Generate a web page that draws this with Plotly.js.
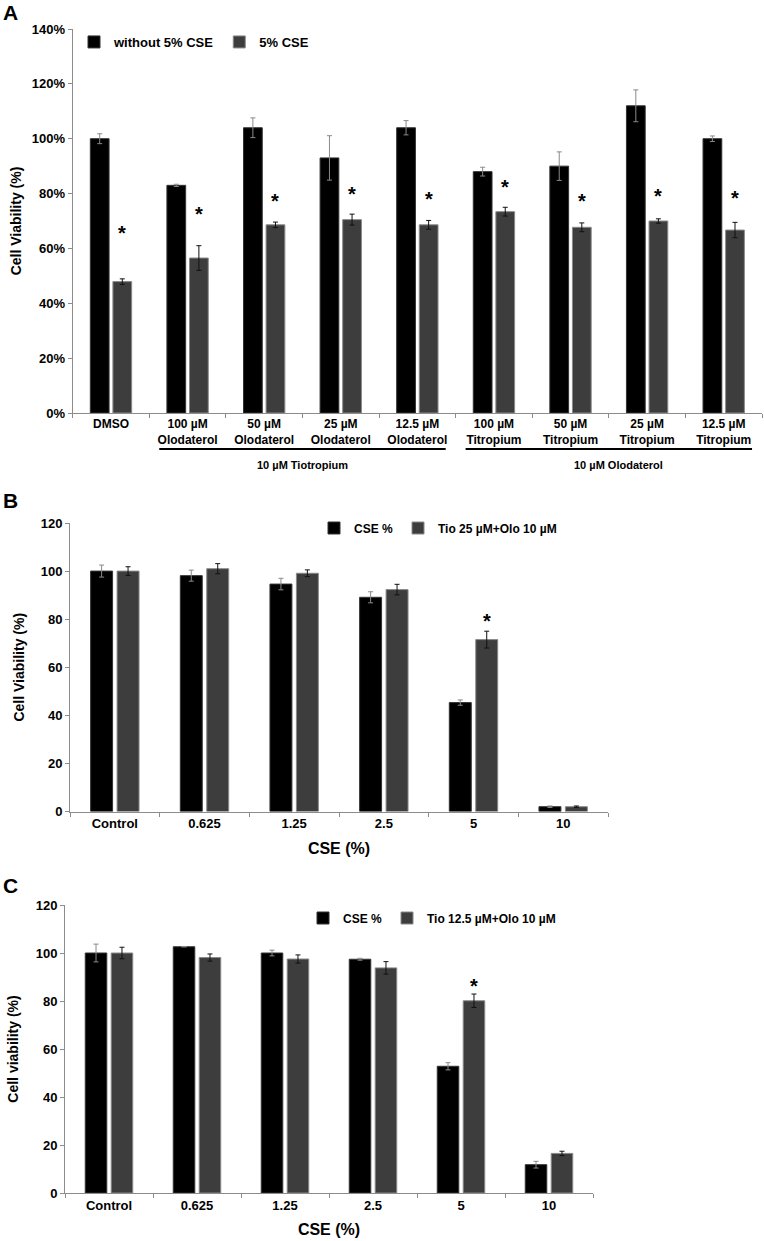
<!DOCTYPE html>
<html>
<head>
<meta charset="utf-8">
<script src="https://cdn.plot.ly/plotly-3.0.1.min.js"></script>
<style>
html,body{margin:0;padding:0;background:#ffffff;}
#chart{width:764px;height:1241px;}
</style>
</head>
<body>
<div id="chart"></div>
<script>
// ---------- Panel A data ----------
const catsA = ['DMSO', '100 µM<br>Olodaterol', '50 µM<br>Olodaterol', '25 µM<br>Olodaterol', '12.5 µM<br>Olodaterol',
               '100 µM<br>Titropium', '50 µM<br>Titropium', '25 µM<br>Titropium', '12.5 µM<br>Titropium'];
const withoutCSE    = [100.0, 83.0, 104.0, 93.0, 104.0, 88.0, 90.0, 112.0, 100.0];
const withoutCSEErr = [1.8, 0.4, 3.6, 8.1, 2.6, 1.6, 5.2, 5.8, 1.0];
const withCSE       = [47.9, 56.5, 68.6, 70.5, 68.6, 73.4, 67.7, 70.0, 66.7];
const withCSEErr    = [1.0, 4.5, 1.0, 2.0, 1.6, 1.6, 1.6, 0.8, 2.8];
const starA         = [67, 74, 78.8, 81.3, 79.5, 83.7, 78.9, 80.5, 79.7];
const groupLabelsA  = ['10 µM Tiotropium', '10 µM Olodaterol'];

// ---------- Panel B data ----------
const catsB   = ['Control', '0.625', '1.25', '2.5', '5', '10'];
const cseB    = [100.0, 98.1, 94.6, 89.1, 45.3, 2.0];
const cseBErr = [2.5, 2.3, 2.4, 2.3, 1.1, 0.3];
const tioB    = [100.0, 101.0, 99.1, 92.3, 71.5, 2.0];
const tioBErr = [1.8, 2.1, 1.4, 2.2, 3.5, 0.3];
const starB   = [null, null, null, null, 80.8, null];

// ---------- Panel C data ----------
const catsC   = ['Control', '0.625', '1.25', '2.5', '5', '10'];
const cseC    = [100.0, 102.6, 100.0, 97.4, 52.8, 11.8];
const cseCErr = [3.7, 0.0, 1.2, 0.4, 1.5, 1.4];
const tioC    = [100.0, 98.1, 97.5, 93.8, 80.1, 16.5];
const tioCErr = [2.4, 1.5, 1.7, 2.6, 2.8, 0.9];
const starC   = [null, null, null, null, 88.0, null];

// ---------- styles ----------
const W = 764, H = 1241;
const narrow = "'Liberation Sans Narrow', 'Arial Narrow', 'Liberation Sans', Arial, sans-serif";
const sans = "'Liberation Sans', Arial, sans-serif";
const BLACK = '#000000', GRAY = '#3d3d3d';
const BARGAP = 0.41, BARGROUPGAP = 0.17;
const px = v => v / W;          // horizontal pixel -> paper
const py = v => 1 - v / H;      // vertical pixel -> paper

function barTrace(name, cats, vals, errs, color, errColor, xa, ya, legend) {
  return {
    type: 'bar', name: name, x: cats, y: vals, xaxis: xa, yaxis: ya, legend: legend,
    marker: {color: color, line: {color: color === BLACK ? '#333333' : '#8a8a8a', width: 1}},
    error_y: {type: 'data', array: errs, visible: true, color: errColor, thickness: 1, width: 2.5}
  };
}

const data = [
  barTrace('without 5% CSE', catsA, withoutCSE, withoutCSEErr, BLACK, '#8a8a8a', 'x', 'y', 'legend'),
  barTrace('5% CSE', catsA, withCSE, withCSEErr, GRAY, '#111111', 'x', 'y', 'legend'),
  barTrace('CSE %', catsB, cseB, cseBErr, BLACK, '#8a8a8a', 'x2', 'y2', 'legend2'),
  barTrace('Tio 25 µM+Olo 10 µM', catsB, tioB, tioBErr, GRAY, '#111111', 'x2', 'y2', 'legend2'),
  barTrace('CSE %', catsC, cseC, cseCErr, BLACK, '#8a8a8a', 'x3', 'y3', 'legend3'),
  barTrace('Tio 12.5 µM+Olo 10 µM', catsC, tioC, tioCErr, GRAY, '#111111', 'x3', 'y3', 'legend3')
];

const lineStyle = {showline: true, linecolor: '#8c8c8c', linewidth: 1, ticks: 'outside',
                   tickcolor: '#8c8c8c', ticklen: 4, tickwidth: 1, showgrid: false, zeroline: false};

function xAxis(domain, anchor, fontSize, title) {
  const ax = Object.assign({}, lineStyle, {
    type: 'category', domain: domain, anchor: anchor, tickson: 'boundaries',
    tickfont: {family: narrow, size: fontSize, color: '#000', weight: 'bold'},
    automargin: false
  });
  if (title) ax.title = {text: title, font: {family: narrow, size: 16, color: '#000', weight: 'bold'}, standoff: 12};
  return ax;
}
function yAxis(domain, anchor, range, suffix, title, standoff) {
  return Object.assign({}, lineStyle, {
    domain: domain, anchor: anchor, range: range, dtick: 20, ticksuffix: suffix,
    tickfont: {family: narrow, size: 13, color: '#000', weight: 'bold'},
    title: {text: title, font: {family: sans, size: 14, color: '#000', weight: 'bold'}, standoff: standoff},
    automargin: false
  });
}

// stars above the grey (second) bar of each group
const starShift = (1 - BARGAP) / 4;
const annotations = [];
function addStars(stars, xref, yref) {
  stars.forEach((s, i) => {
    if (s === null) return;
    annotations.push({xref: xref, yref: yref, x: i + starShift, y: s, text: '*', showarrow: false,
      xanchor: 'center', yanchor: 'middle', yshift: -4,
      font: {family: sans, size: 20, color: '#000', weight: 'bold'}});
  });
}
addStars(starA, 'x', 'y');
addStars(starB, 'x2', 'y2');
addStars(starC, 'x3', 'y3');

// panel letters
[['A', 12.5], ['B', 500], ['C', 885]].forEach(([t, yy]) => {
  annotations.push({xref: 'paper', yref: 'paper', x: px(1), y: py(yy), text: t, showarrow: false,
    xanchor: 'left', yanchor: 'middle', font: {family: sans, size: 21, color: '#000', weight: 'bold'}});
});

// group brackets under panel A
const inset = 0.37;
const groups = [[1, 4], [5, 8]];
const shapes = groups.map(([a, b]) => ({type: 'line', xref: 'x', yref: 'paper',
  x0: a - inset, x1: b + inset, y0: py(449), y1: py(449), line: {color: '#000', width: 2}}));
groups.forEach(([a, b], k) => {
  annotations.push({xref: 'x', yref: 'paper', x: (a + b) / 2 + (k === 1 ? 0.12 : 0), y: py(465),
    text: groupLabelsA[k], showarrow: false, xanchor: 'center', yanchor: 'middle',
    font: {family: sans, size: 11, color: '#000', weight: 'bold'}});
});

const legendBase = {orientation: 'h', xanchor: 'left', yanchor: 'middle', bgcolor: 'rgba(0,0,0,0)',
                    traceorder: 'normal', itemclick: false, itemdoubleclick: false};

const layout = {
  width: W, height: H,
  margin: {l: 0, r: 0, t: 0, b: 0},
  paper_bgcolor: '#ffffff', plot_bgcolor: '#ffffff',
  barmode: 'group', bargap: BARGAP, bargroupgap: BARGROUPGAP,
  showlegend: true,
  font: {family: sans, color: '#000'},
  xaxis:  xAxis([px(72.7), px(762)], 'y', 12, null),
  yaxis:  yAxis([py(413), py(29)], 'x', [0, 140], '%', 'Cell Viability (%)', 6),
  xaxis2: xAxis([px(70), px(608)], 'y2', 13, 'CSE (%)'),
  yaxis2: yAxis([py(811.5), py(523)], 'x2', [0, 120], '', 'Cell Viability (%)', 12),
  xaxis3: xAxis([px(65), px(593)], 'y3', 13, 'CSE (%)'),
  yaxis3: yAxis([py(1193), py(905)], 'x3', [0, 120], '', 'Cell viability (%)', 13),
  legend:  Object.assign({}, legendBase, {x: px(74), y: py(42),
            font: {family: sans, size: 13, color: '#000', weight: 'bold'}}),
  legend2: Object.assign({}, legendBase, {x: px(314), y: py(528),
            font: {family: narrow, size: 12, color: '#000', weight: 'bold'}}),
  legend3: Object.assign({}, legendBase, {x: px(303), y: py(918),
            font: {family: narrow, size: 12, color: '#000', weight: 'bold'}}),
  shapes: shapes,
  annotations: annotations
};

Plotly.newPlot('chart', data, layout, {displayModeBar: false, staticPlot: true});
</script>
</body>
</html>
